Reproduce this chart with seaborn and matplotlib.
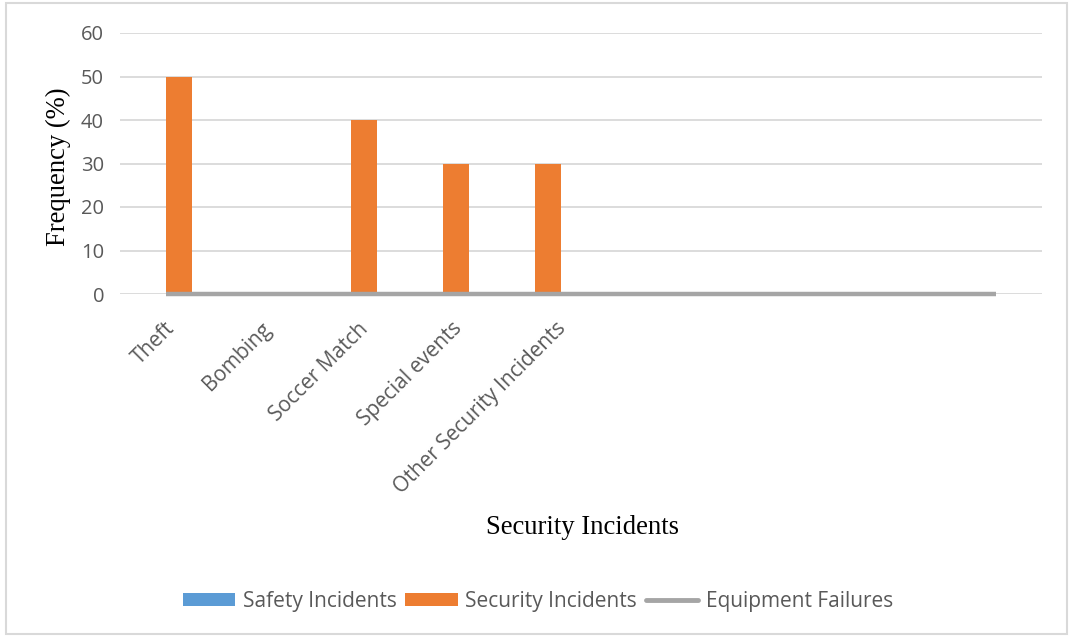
import matplotlib
matplotlib.use("Agg")
import matplotlib.pyplot as plt
import matplotlib.transforms as mtransforms
from matplotlib.patches import Rectangle, Patch
from matplotlib.lines import Line2D
import seaborn as sns
import pandas as pd

# Incident categories (the last five slots are unlabelled)
tick_labels = ["Theft", "Bombing", "Soccer Match", "Special events",
               "Other Security Incidents", "", "", "", "", ""]
safety_incidents = [0, 0, 0, 0, 0, 0, 0, 0, 0, 0]
security_incidents = [50, 0, 40, 30, 30, 0, 0, 0, 0, 0]
equipment_failures = [0, 0, 0, 0, 0, 0, 0, 0, 0, 0]
y_ticks = [0, 10, 20, 30, 40, 50, 60]

slots = list(range(len(tick_labels)))
bars = pd.DataFrame({
    "slot": slots * 2,
    "value": safety_incidents + security_incidents,
    "series": ["Safety Incidents"] * len(slots) + ["Security Incidents"] * len(slots),
})
line = pd.DataFrame({"slot": slots, "value": equipment_failures})

BLUE, ORANGE, GREY = "#5B9BD5", "#ED7D31", "#A5A5A5"
TEXT = "#595959"

sns.set_theme(style="white")
plt.rcParams["font.family"] = ["Open Sans", "DejaVu Sans"]

fig = plt.figure(figsize=(10.7, 6.37), dpi=100)
W, H = 1070, 637
ax = fig.add_axes([120 / W, 1 - 294 / H, (1042 - 120) / W, (294 - 33) / H])

sns.barplot(data=bars, x="slot", y="value", hue="series",
            hue_order=["Safety Incidents", "Security Incidents"],
            palette=[BLUE, ORANGE], width=0.564, gap=0,
            saturation=1, linewidth=0, legend=False, ax=ax, zorder=2)
sns.lineplot(data=line, x="slot", y="value", color=GREY, linewidth=3.2,
             ax=ax, zorder=3, legend=False)
for ln in ax.lines:
    ln.set_solid_capstyle("butt")
    ln.set_clip_on(False)

ax.set_xlim(-0.5, len(slots) - 0.5)
ax.set_ylim(0, 60)
ax.set_yticks(y_ticks)
ax.yaxis.grid(True, color="#D9D9D9", linewidth=1.3, zorder=0)
ax.set_axisbelow(True)
for s in ax.spines.values():
    s.set_visible(False)

ax.set_xticks(slots)
ax.set_xticklabels(tick_labels, rotation=45, ha="right", rotation_mode="anchor",
                   color=TEXT, fontsize=15)
ax.tick_params(axis="x", length=0, pad=17.5)
ax.tick_params(axis="y", length=0, pad=11.5, labelsize=14.5, labelcolor=TEXT)

# longer slanted labels sit a little further right of their category
renderer = fig.canvas.get_renderer()
for lbl in ax.get_xticklabels():
    if not lbl.get_text():
        continue
    lbl.set_rotation(0)
    width_px = lbl.get_window_extent(renderer).width
    lbl.set_rotation(45)
    dx = (0.12 * width_px - 8) / 100
    lbl.set_transform(lbl.get_transform()
                      + mtransforms.ScaledTranslation(dx, 0, fig.dpi_scale_trans))

ax.set_xlabel("")
ax.set_ylabel("")
serif = ["Liberation Serif", "DejaVu Serif"]
fig.text(58 / W, 1 - 167 / H, "Frequency (%)", rotation=90, ha="center",
         va="center", family=serif, fontsize=19.2, color="black")
fig.text(582 / W, 1 - 528 / H, "Security Incidents", ha="center", va="center",
         family=serif, fontsize=19.2, color="black")

handles = [Patch(facecolor=BLUE, edgecolor="none"),
           Patch(facecolor=ORANGE, edgecolor="none"),
           Line2D([0], [0], color=GREY, linewidth=3.5, solid_capstyle="round")]
fig.legend(handles, ["Safety Incidents", "Security Incidents", "Equipment Failures"],
           loc="center", bbox_to_anchor=(538 / W, 1 - 601 / H), ncol=3,
           frameon=False, fontsize=15, labelcolor=TEXT, handlelength=2.5,
           handleheight=0.6, handletextpad=0.38, columnspacing=0.4)

fig.add_artist(Rectangle((6 / W, 3 / H), (1067 - 6) / W, (634 - 3) / H,
                         transform=fig.transFigure, fill=False,
                         edgecolor="#D9D9D9", linewidth=1.5))

fig.savefig("out.png", dpi=100, facecolor="white")
